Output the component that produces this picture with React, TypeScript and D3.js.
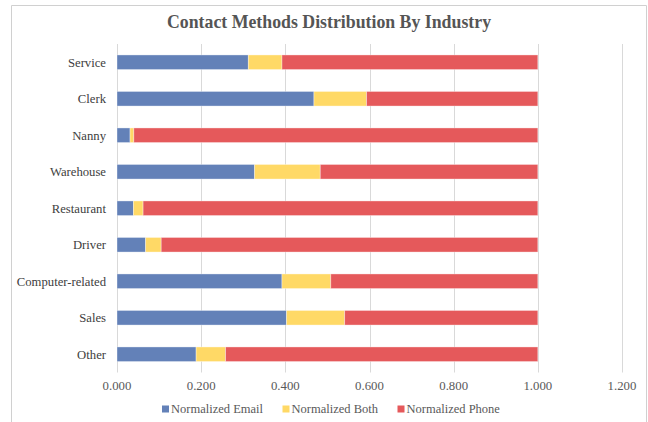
import React from "react";
import * as d3 from "d3";

const categories = ["Service", "Clerk", "Nanny", "Warehouse", "Restaurant", "Driver", "Computer-related", "Sales", "Other"];
const emailValues = [0.312, 0.468, 0.031, 0.327, 0.039, 0.068, 0.392, 0.403, 0.188];
const bothValues = [0.080, 0.125, 0.009, 0.156, 0.023, 0.037, 0.116, 0.138, 0.070];
const phoneValues = [0.608, 0.407, 0.960, 0.517, 0.938, 0.895, 0.492, 0.459, 0.742];
const seriesNames = ["Normalized Email", "Normalized Both", "Normalized Phone"];
const xTicks = [0, 0.2, 0.4, 0.6, 0.8, 1.0, 1.2];
const title = "Contact Methods Distribution By Industry";

const colors = ["#6381B8", "#FFD966", "#E5595B"];

export default function App() {
  const W = 648, H = 422;
  const left = 117, right = 622, top = 44, bottom = 372.5;
  const x = d3.scaleLinear().domain([0, 1.2]).range([left, right]);
  const y = d3.scaleBand<string>().domain(categories).range([top, bottom]).paddingInner(0.6).paddingOuter(0.3);

  const rows = categories.map((c, i) => ({ cat: c, Email: emailValues[i], Both: bothValues[i], Phone: phoneValues[i] }));
  const stack = d3.stack<any>().keys(["Email", "Both", "Phone"]);
  const layers = stack(rows);
  const font = "'Liberation Serif', 'Times New Roman', serif";
  const legendX = [162, 282.5, 397.5];

  return (
    <svg width={W} height={H} style={{ position: "absolute", left: 0, top: 0 }} fontFamily={font}>
      <rect x={0} y={0} width={W} height={H} fill="#fff" />
      <path d={`M11.5,${H} V5.5 H646.5 V${H}`} fill="none" stroke="#d0d0d0" strokeWidth={1} />
      <text x={329} y={28} textAnchor="middle" fontSize={17.8} fontWeight="bold" fill="#555555">{title}</text>
      {xTicks.map((t) => (
        <g key={t}>
          <line x1={Math.round(x(t)) + 0.5} x2={Math.round(x(t)) + 0.5} y1={top} y2={bottom} stroke="#d9d9d9" strokeWidth={1} />
          <text x={x(t)} y={390} textAnchor="middle" fontSize={12.8} fill="#595959">{d3.format(".3f")(t)}</text>
        </g>
      ))}
      {categories.map((c) => (
        <text key={c} x={106} y={(y(c) ?? 0) + y.bandwidth() / 2} dy="0.35em" textAnchor="end" fontSize={12.7} fill="#404040">{c}</text>
      ))}
      {layers.map((layer, li) => (
        <g key={li}>
          {layer.map((d, i) => (
            <rect key={i} x={x(d[0])} y={y(categories[i])} width={x(d[1]) - x(d[0])} height={y.bandwidth()}
              fill={colors[li]} stroke="#ffffff" strokeOpacity={0.45} strokeWidth={0.8} />
          ))}
        </g>
      ))}
      {seriesNames.map((s, i) => (
        <g key={s}>
          <rect x={legendX[i]} y={405.5} width={7} height={7} fill={colors[i]} />
          <text x={legendX[i] + 9} y={409} dy="0.35em" fontSize={12.5} fill="#595959">{s}</text>
        </g>
      ))}
    </svg>
  );
}
